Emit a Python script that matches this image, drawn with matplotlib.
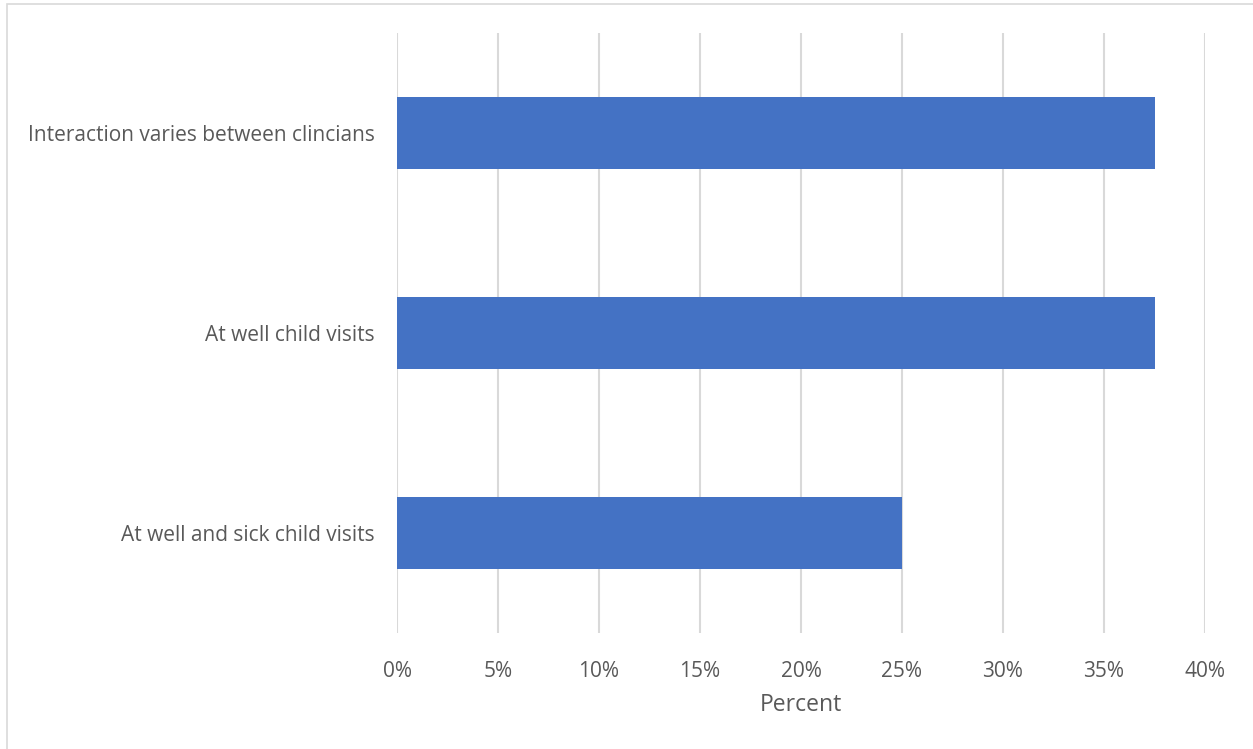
import matplotlib.pyplot as plt
from matplotlib.patches import Rectangle
from matplotlib.ticker import FuncFormatter

categories = ["Interaction varies between clincians", "At well child visits", "At well and sick child visits"]
percent = [37.5, 37.5, 25.0]
xticks = [0, 5, 10, 15, 20, 25, 30, 35, 40]

plt.rcParams['font.family'] = ['Open Sans', 'DejaVu Sans']
text_color = "#595959"

fig = plt.figure(figsize=(12.53, 7.49), dpi=100)
ax = fig.add_axes([397 / 1253, 1 - 633 / 749, (1205 - 397) / 1253, 600 / 749])

# outer chart border (only top and left show in the reference)
fig.patches.append(Rectangle((7 / 1253, -0.1), 1.2, 1 - 4 / 749 + 0.1, transform=fig.transFigure,
                             fill=False, edgecolor="#D9D9D9", linewidth=1.2))

pos = list(range(len(categories)))
ax.barh(pos, percent, height=0.36, color="#4472C4", zorder=3)

ax.set_xlim(0, 40)
ax.set_ylim(2.5, -0.5)
ax.set_xticks(xticks)
ax.xaxis.set_major_formatter(FuncFormatter(lambda v, p: f"{v:.0f}%"))
ax.set_yticks(pos)
ax.set_yticklabels(categories)
ax.grid(axis="x", color="#D9D9D9", linewidth=1.5, zorder=0)
ax.tick_params(axis="both", length=0, labelsize=15, labelcolor=text_color)
ax.tick_params(axis="x", pad=20)
ax.tick_params(axis="y", pad=16)
for s in ax.spines.values():
    s.set_visible(False)

ax.set_xlabel("Percent", fontsize=16.5, color=text_color, labelpad=8)

fig.savefig("out.png", dpi=100)
